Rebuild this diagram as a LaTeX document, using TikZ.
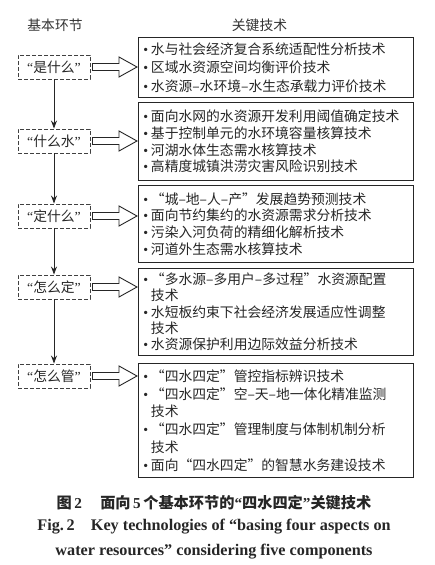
\documentclass[tikz,border=0pt]{standalone}
\usepackage{fontspec}
\setmainfont{Liberation Serif}
\newfontfamily\cjk{Noto Sans CJK SC}
\usetikzlibrary{calc,arrows.meta}
\tikzset{
 rbox/.style={draw=black!85, line width=0.9pt, anchor=north west, minimum width=275pt, text width=265pt, inner xsep=5pt, inner ysep=0pt, align=left, font=\cjk\fontsize{13.8}{#1}\selectfont, text=black!85},
 lbox/.style={draw=black!75, dash pattern=on 4pt off 2pt, line width=0.9pt, minimum width=72pt, minimum height=24pt, inner sep=0pt, font=\cjk\fontsize{13.8}{16}\selectfont, text=black!85},
 varrow/.style={-{Stealth[length=8pt,width=6pt]}, line width=0.9pt, draw=black!85},
 harrow/.style={draw=black!85, line width=0.9pt, fill=white},
 headtxt/.style={font=\cjk\fontsize{13.8}{16}\selectfont, text=black!80},
}
\newcommand\bul{\makebox[7.5pt][l]{\rmfamily •}}
\newcommand\ind{\hspace*{7.5pt}}
\newcommand\myLq{{\rmfamily “}}
\newcommand\myRq{{\rmfamily ”}}
\newcommand\hollow[2]{%
 \draw[harrow] ($(#1.east)+(2,-3.5)$) -- ($(#2.west |- #1.east)+(-19,-3.5)$) -- ($(#2.west |- #1.east)+(-19,-10)$) -- ($(#2.west |- #1.east)+(-1,0)$) -- ($(#2.west |- #1.east)+(-19,10)$) -- ($(#2.west |- #1.east)+(-19,3.5)$) -- ($(#1.east)+(2,3.5)$) -- cycle;}
\begin{document}
\begin{tikzpicture}[x=1pt,y=-1pt]
\useasboundingbox (0,0) rectangle (435,565);
\node[headtxt] (h1) at (55,25) {基本环节};
\node[headtxt] (h2) at (259.5,25) {关键技术};

\node[rbox=18.5, minimum height=60pt] (R1) at (138,37) {\bul 水与社会经济复合系统适配性分析技术\\\bul 区域水资源空间均衡评价技术\\\bul 水资源–水环境–水生态承载力评价技术};
\node[rbox=16.8, minimum height=78pt] (R2) at (138,102) {\bul 面向水网的水资源开发利用阈值确定技术\\\bul 基于控制单元的水环境容量核算技术\\\bul 河湖水体生态需水核算技术\\\bul 高精度城镇洪涝灾害风险识别技术};
\node[rbox=16.8, minimum height=77pt] (R3) at (138,185) {\bul “城–地–人–产”发展趋势预测技术\\\bul 面向节约集约的水资源需求分析技术\\\bul 污染入河负荷的精细化解析技术\\\bul 河道外生态需水核算技术};
\node[rbox=16.3, minimum height=87pt] (R4) at (138,268) {\bul “多水源–多用户–多过程”水资源配置\\\ind 技术\\\bul 水短板约束下社会经济发展适应性调整\\\ind 技术\\\bul 水资源保护利用边际效益分析技术};
\node[rbox=17.8, minimum height=114pt] (R5) at (138,363) {\bul “四水四定”管控指标辨识技术\\\bul “四水四定”空–天–地一体化精准监测\\\ind 技术\\\bul “四水四定”管理制度与体制机制分析\\\ind 技术\\\bul 面向“四水四定”的智慧水务建设技术};

\node[lbox] (L1) at (54,67) {\myLq 是什么\myRq};
\node[lbox] (L2) at (54,141) {\myLq 什么水\myRq};
\node[lbox] (L3) at (54,216) {\myLq 定什么\myRq};
\node[lbox] (L4) at (54,287) {\myLq 怎么定\myRq};
\node[lbox] (L5) at (54,376) {\myLq 怎么管\myRq};

\draw[varrow] (L1.south) -- (L2.north);
\draw[varrow] (L2.south) -- (L3.north);
\draw[varrow] (L3.south) -- (L4.north);
\draw[varrow] (L4.south) -- (L5.north);

\hollow{L1}{R1}
\hollow{L2}{R2}
\hollow{L3}{R3}
\hollow{L4}{R4}
\hollow{L5}{R5}

\node[font=\cjk\bfseries\fontsize{15.2}{17}\selectfont, text=black!85] (cap1) at (214,503) {图\,{\rmfamily 2}\hspace{1.2em}面向\,{\rmfamily 5}\,个基本环节的{\rmfamily “}四水四定{\rmfamily ”}关键技术};
\node[font=\rmfamily\bfseries\fontsize{16.2}{18}\selectfont, text=black!85] (cap2) at (214,527) {Fig.\,2\hspace{1em}Key technologies of “basing four aspects on};
\node[font=\rmfamily\bfseries\fontsize{16.2}{18}\selectfont, text=black!85] (cap3) at (214,552) {water resources” considering five components};
\end{tikzpicture}
\end{document}
